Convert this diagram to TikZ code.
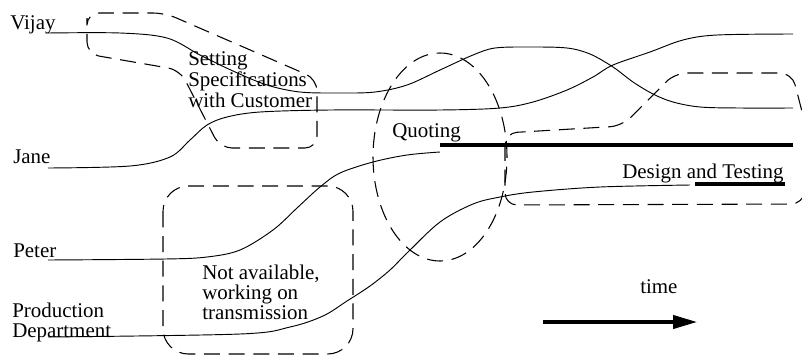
\documentclass[tikz,border=0pt]{standalone}
\usepackage{fontspec}
\setmainfont{Liberation Serif}
\usetikzlibrary{arrows.meta}

\begin{document}
\begin{tikzpicture}[x=0.75pt,y=-0.75pt,
  lbl/.style={anchor=base west, inner sep=0pt, font=\fontsize{15.7}{18}\selectfont},
  track/.style={line width=0.7pt},
  task/.style={line width=2.6pt},
  zone/.style={line width=0.8pt, dash pattern=on 12pt off 6.5pt, rounded corners=9pt}]
\useasboundingbox (0,0) rectangle (802,358);

% people / departments
\node[lbl] (vijay) at (10,29) {Vijay};
\node[lbl] (jane)  at (13,163) {Jane};
\node[lbl] (peter) at (13,257) {Peter};
\node[lbl] (prod1) at (12,317) {Production};
\node[lbl] (prod2) at (12,337) {Department};

% activity labels
\node[lbl] (set1) at (188,65)  {Setting};
\node[lbl] (set2) at (188,86)  {Specifications};
\node[lbl] (set3) at (188,107) {with Customer};
\node[lbl] (quot) at (392,137) {Quoting};
\node[lbl] (dt)   at (622,178) {Design and Testing};
\node[lbl] (na1)  at (202,279) {Not available,};
\node[lbl] (na2)  at (202,299) {working on};
\node[lbl] (na3)  at (202,319) {transmission};
\node[lbl] (time) at (640,293) {time};

\begin{scope}
\clip (0,0) rectangle (802,358);

% time lines of each participant
\draw[track] plot[smooth, tension=0.55] coordinates {
  (48,33) (120,33) (167,38) (200,55) (233,71) (267,85) (300,92) (340,93)
  (375,92) (407,85) (440,70) (473,55) (495,48) (530,47) (567,48) (590,54)
  (613,67) (633,82) (653,94) (673,102) (700,107) (740,108) (793,108)};
\draw[track] plot[smooth, tension=0.55] coordinates {
  (48,168) (130,166) (170,157) (190,140) (207,125) (227,117) (260,112)
  (330,110) (440,110) (500,108) (533,102) (567,90) (593,77) (613,65)
  (650,52) (683,40) (717,35) (793,34)};
\draw[track] plot[smooth, tension=0.55] coordinates {
  (48,260) (165,259) (207,257) (240,250) (273,230) (297,208) (320,187)
  (340,173) (373,162) (407,155) (440,152)};
\draw[track] plot[smooth, tension=0.55] coordinates {
  (48,337) (240,334) (290,327) (323,316) (347,301) (370,286) (390,270)
  (407,253) (440,222) (473,204) (500,197) (533,192) (600,187) (690,185)};

% bold stretches
\coordinate (q0) at (440,145);
\coordinate (q1) at (793,145);
\draw[task] (q0) -- (q1);
\coordinate (d0) at (695,184);
\coordinate (d1) at (785,184);
\draw[task] (d0) -- (d1);

% dashed activity zones
\draw[zone] (87,30) -- (87,13) -- (165,13) -- (317,79) -- (317,148)
  -- (220,148) -- (180,70) -- (87,54) -- cycle;
\draw[zone, rounded corners=0pt] (440,157) ellipse [x radius=50.25pt, y radius=78pt];
\draw[zone] (505,170) -- (505,133) -- (622,126) -- (675,73) -- (792,73)
  -- (812,150) -- (803,204) -- (505,205) -- cycle;
\draw[zone, rounded corners=19pt] (163,186) rectangle (353,354);
\end{scope}

% time arrow
\coordinate (t0) at (543,322);
\coordinate (t1) at (697,322);
\draw[line width=2.3pt, -{Triangle[length=18pt,width=10pt]}] (t0) -- (t1);
\end{tikzpicture}
\end{document}
